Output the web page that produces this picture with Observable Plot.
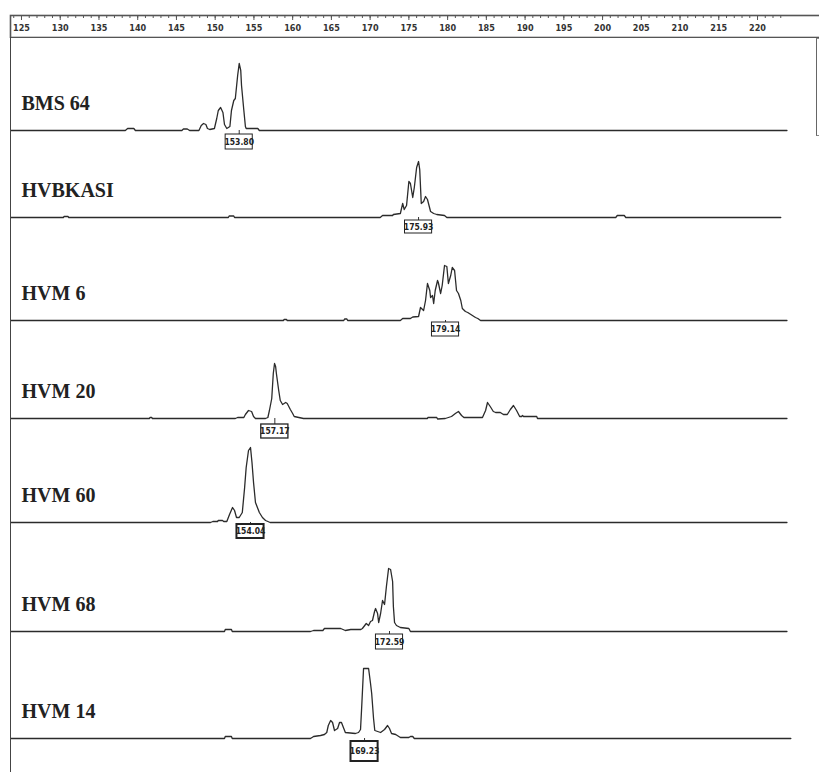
<!DOCTYPE html>
<html>
<head>
<meta charset="utf-8">
<script src="https://cdn.jsdelivr.net/npm/d3@7"></script>
<script src="https://cdn.jsdelivr.net/npm/@observablehq/plot@0.6"></script>
<style>
  html, body { margin: 0; padding: 0; background: #fff; }
  #wrap { position: relative; width: 819px; height: 772px; overflow: hidden; }
  #wrap svg { display: block; }
  #leftline { position: absolute; left: 10px; top: 37px; width: 0; height: 735px; border-left: 1.5px solid #444; }
  #scroll { position: absolute; left: 816px; top: 38px; width: 3px; height: 96px; border-left: 1.2px solid #666; border-top: 1px solid #888; border-bottom: 1px solid #888; }
</style>
</head>
<body>
<div id="wrap"><div id="leftline"></div><div id="scroll"></div></div>
<script>
// ---- Data (fragment size in bp, relative fluorescence) ----
const samples = ["BMS 64", "HVBKASI", "HVM 6", "HVM 20", "HVM 60", "HVM 68", "HVM 14"];
const peakSizes = [153.1, 176.25, 179.73, 157.7, 154.56, 172.5, 169.28];
const peakLabels = ["153.80", "175.93", "179.14", "157.17", "154.04", "172.59", "169.23"];
const majorTicks = [125,130,135,140,145,150,155,160,165,170,175,180,185,190,195,200,205,210,215,220];
const minorTicks = d3.range(124, 224, 1);

const traceBMS64 = [[123.6,0],[138.4,0],[138.7,2],[139.5,2],[139.7,0],[145.7,0],[145.9,1.5],[146.4,1.5],[146.7,0],[147.9,0],[148.2,5],[148.5,7],[148.8,6],[149.0,2],[149.3,1],[149.9,2],[150.2,12],[150.4,20],[150.7,23],[151.0,18],[151.2,6],[151.5,2],[151.9,4],[152.1,20],[152.4,30],[152.6,32],[152.9,55],[153.1,67],[153.3,60],[153.4,45],[153.7,20],[153.9,4],[154.0,2],[155.5,2],[155.7,0],[223.8,0]];
const traceHVBKASI = [[123.6,0],[130.4,0],[130.5,1],[131.0,1],[131.1,0],[151.7,0],[151.8,1.5],[152.4,1.5],[152.5,0],[171.3,0],[171.6,2],[172.9,2],[173.0,3],[173.9,4],[174.2,14],[174.4,8],[174.7,12],[175.0,36],[175.2,34],[175.5,20],[175.7,30],[176.0,50],[176.25,56],[176.4,48],[176.6,14],[176.9,16],[177.15,21],[177.4,18],[177.8,6],[178.2,4],[178.6,3],[179.6,2],[179.9,0],[201.7,0],[201.9,2],[202.8,2],[203.0,0],[223.0,0]];
const traceHVM6 = [[123.6,0],[158.8,0],[158.9,1],[159.2,1],[159.3,0],[166.6,0],[166.7,1.5],[167.0,1.5],[167.1,0],[173.9,0],[174.2,2],[175.2,2],[175.5,3.5],[176.25,4],[176.5,13],[176.9,10],[177.15,20],[177.4,37],[177.7,30],[177.8,23],[178.05,25],[178.2,17],[178.4,30],[178.7,40],[178.8,38],[179.1,27],[179.3,35],[179.6,55],[179.9,54],[180.1,37],[180.4,45],[180.6,53],[180.9,50],[181.15,30],[181.4,27],[181.7,20],[181.9,12],[182.3,9],[182.6,8],[183.0,6],[183.2,5],[183.6,3],[183.9,2],[184.25,0],[223.8,0]];
const traceHVM20 = [[123.6,0],[141.5,0],[141.6,1],[141.8,1],[141.9,0],[152.6,0],[152.9,1],[153.7,1],[153.9,4],[154.3,8],[154.7,7],[154.95,2],[155.2,0],[156.5,0],[156.8,1],[157.0,8],[157.3,20],[157.5,45],[157.66,55],[157.8,52],[157.9,45],[158.2,28],[158.4,18],[158.7,14],[159.1,16],[159.3,15],[159.7,9],[160.0,5],[160.2,2],[161.4,0],[177.4,0],[177.45,1],[178.6,1],[178.7,-0.5],[179.7,0],[180.5,2],[181.0,5],[181.4,7],[181.8,3],[182.1,1],[184.5,1],[184.9,8],[185.15,16],[185.5,12],[185.9,7],[186.2,6],[186.8,6],[187.2,4],[187.7,4],[188.1,9],[188.5,13],[188.9,8],[189.3,2],[189.55,2],[189.67,3],[189.8,2],[191.5,2],[191.6,0],[223.8,0]];
const traceHVM60 = [[123.6,0],[149.4,0],[149.7,1],[150.3,1],[150.4,2],[150.95,2],[151.1,1],[151.5,1],[151.6,3],[151.85,8],[152.24,15],[152.5,12],[152.75,5],[153.1,5],[153.5,10],[153.8,35],[154.0,55],[154.3,72],[154.56,75],[154.75,60],[154.95,40],[155.2,20],[155.5,14],[155.7,10],[156.1,5],[156.5,2],[157.1,0],[223.8,0]];
const traceHVM68 = [[123.6,0],[151.2,0],[151.3,2],[152.1,2],[152.2,0],[162.3,0],[162.7,1],[163.9,1],[164.1,3],[166.2,3],[166.8,1],[167.5,2],[168.8,2],[169.0,3],[169.3,6],[169.5,8],[169.8,6],[170.05,10],[170.3,11],[170.57,20],[170.7,23],[170.96,18],[171.1,9],[171.35,18],[171.6,31],[171.86,27],[172.1,45],[172.38,63],[172.64,62],[172.9,50],[173.0,25],[173.15,9],[173.4,6],[173.9,4],[175.0,3],[175.2,0],[223.8,0]];
const traceHVM14 = [[123.6,0],[151.2,0],[151.3,2],[152.1,2],[152.2,0],[162.3,0],[162.7,2],[163.6,3],[164.1,4],[164.4,6],[164.6,13],[164.9,18],[165.15,16],[165.4,8],[165.8,10],[166.05,16],[166.3,16],[166.6,10],[166.8,6],[168.1,5],[168.5,6],[168.76,9],[168.9,30],[169.15,70],[169.8,70],[170.05,55],[170.2,45],[170.44,20],[170.6,8],[171.35,6],[171.86,9],[172.25,13],[172.5,10],[172.76,5],[173.3,4],[173.9,1],[175.0,1],[175.2,2],[175.5,2],[175.7,0],[224.3,0]];
const traces = [traceBMS64, traceHVBKASI, traceHVM6, traceHVM20, traceHVM60, traceHVM68, traceHVM14];

// ---- Layout (pixels) ----
const W = 819;
const xScale = {domain: [122.29, 228.0], range: [0, W]};
const panelHeights = [114, 87, 103, 98, 104, 109, 119];
const panelBelow = [22, 22, 22, 22, 22, 22, 34];
const boxTop = [-4, -3, -2, -6, -2, -3, -3];
const boxBottom = [-19, -16, -16, -20, -16, -18, -23];
const boxStroke = [1, 1, 1, 1.3, 2, 1, 2];

const wrap = document.getElementById("wrap");

// Top scale bar
const axisPlot = Plot.plot({
  width: W, height: 38,
  marginTop: 0, marginBottom: 23, marginLeft: 0, marginRight: 0,
  x: {...xScale, label: null},
  marks: [
    Plot.frame({insetTop: 15, insetBottom: -22, insetLeft: 10, insetRight: -5, stroke: "#555", strokeWidth: 1.6}),
    Plot.axisX(minorTicks, {anchor: "bottom", tickSize: 3, tickFormat: () => "", stroke: "#555", label: null}),
    Plot.axisX(majorTicks, {anchor: "bottom", tickSize: 5, tickPadding: 4, tickFormat: d => String(d),
      fontSize: 9, fontWeight: "bold", fontFamily: "Liberation Sans Narrow, DejaVu Sans Condensed, sans-serif",
      fill: "#333", stroke: "#555", label: null})
  ]
});
wrap.appendChild(axisPlot);

samples.forEach((name, i) => {
  const h = panelHeights[i], mb = panelBelow[i];
  const peak = [peakSizes[i]];
  const p = Plot.plot({
    width: W, height: h,
    marginTop: 0, marginBottom: 0, marginLeft: 0, marginRight: 0,
    x: {...xScale, axis: null},
    y: {domain: [-mb, h - mb], range: [h, 0], axis: null},
    marks: [
      Plot.line(traces[i], {x: d => d[0], y: d => d[1], stroke: "#2b2b2b", strokeWidth: 1.3}),
      Plot.ruleX(peak, {x: d => d, y1: 0, y2: boxTop[i], stroke: "#333"}),
      Plot.rect(peak, {x1: d => d - 1.75, x2: d => d + 1.75, y1: boxTop[i], y2: boxBottom[i],
        fill: "white", stroke: "#222", strokeWidth: boxStroke[i]}),
      Plot.text(peak, {x: d => d, y: (boxTop[i] + boxBottom[i]) / 2, text: () => peakLabels[i],
        fontSize: 8.5, fontWeight: "bold", fontFamily: "Liberation Sans Narrow, DejaVu Sans Condensed, sans-serif", fill: "#222"}),
      Plot.text([name], {frameAnchor: "left", y: 27, dx: 21, text: d => d, textAnchor: "start",
        fontSize: 20, fontWeight: "bold", fontFamily: "Liberation Serif, Times New Roman, serif", fill: "#222"})
    ]
  });
  wrap.appendChild(p);
});
</script>
</body>
</html>
